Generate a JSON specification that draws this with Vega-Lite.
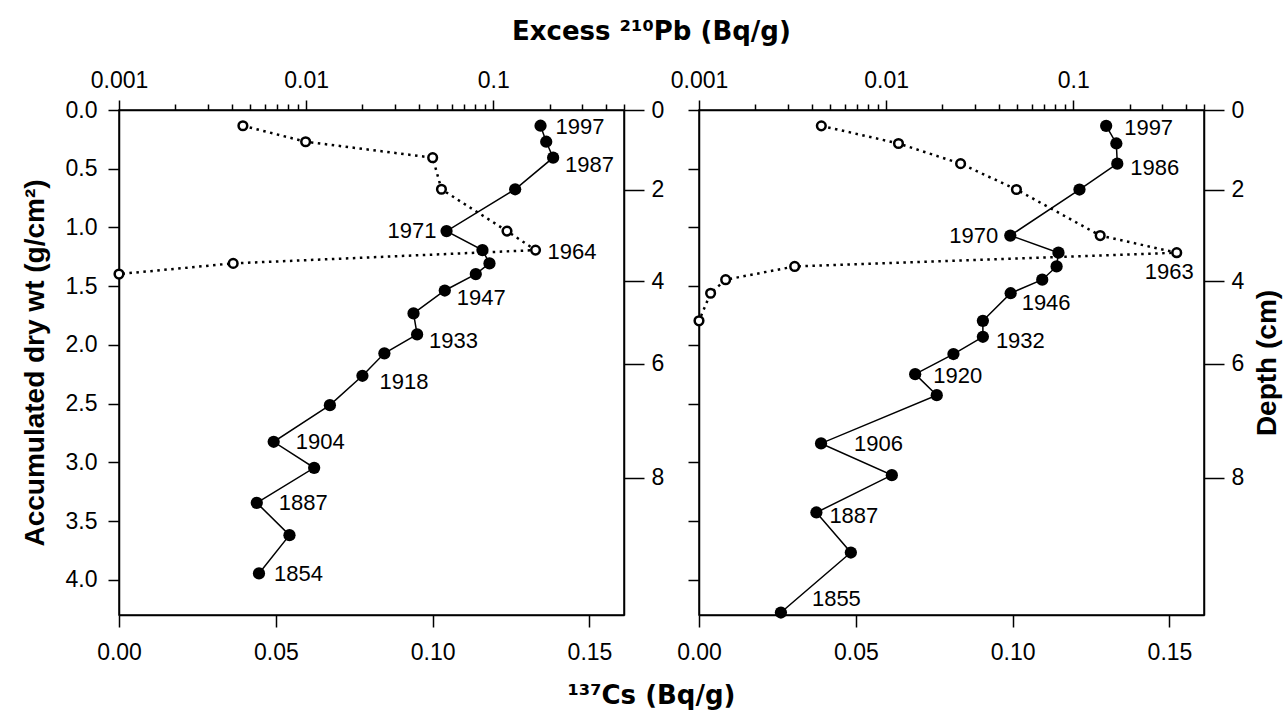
{
  "$schema": "https://vega.github.io/schema/vega-lite/v6.json",
  "background": "white",
  "padding": {"left": 20, "top": 19, "right": 5, "bottom": 5},
  "title": {"text": "¹³⁷Cs (Bq/g)", "orient": "bottom", "anchor": "middle", "fontSize": 26, "fontWeight": "bold", "offset": 18, "font": "DejaVu Sans", "color": "black"},
  "datasets": {
    "core1": [
      {"dry": 0.134, "pb": 0.179, "cs": 0.0395, "year": "1997"},
      {"dry": 0.270, "pb": 0.192, "cs": 0.0595, "year": null},
      {"dry": 0.406, "pb": 0.209, "cs": 0.100, "year": "1987"},
      {"dry": 0.675, "pb": 0.131, "cs": 0.1028, "year": null},
      {"dry": 1.031, "pb": 0.0563, "cs": 0.1237, "year": "1971"},
      {"dry": 1.193, "pb": 0.0876, "cs": 0.1328, "year": null, "csyear": "1964"},
      {"dry": 1.306, "pb": 0.0955, "cs": 0.0364, "year": null},
      {"dry": 1.397, "pb": 0.0807, "cs": 0.0, "year": null},
      {"dry": 1.537, "pb": 0.0551, "cs": null, "year": "1947"},
      {"dry": 1.732, "pb": 0.0375, "cs": null, "year": null},
      {"dry": 1.911, "pb": 0.0392, "cs": null, "year": "1933"},
      {"dry": 2.072, "pb": 0.0262, "cs": null, "year": null},
      {"dry": 2.263, "pb": 0.0200, "cs": null, "year": "1918"},
      {"dry": 2.513, "pb": 0.0134, "cs": null, "year": null},
      {"dry": 2.825, "pb": 0.00671, "cs": null, "year": "1904"},
      {"dry": 3.047, "pb": 0.01104, "cs": null, "year": null},
      {"dry": 3.345, "pb": 0.00545, "cs": null, "year": "1887"},
      {"dry": 3.620, "pb": 0.00815, "cs": null, "year": null},
      {"dry": 3.946, "pb": 0.0056, "cs": null, "year": "1854"}
    ],
    "core2": [
      {"dry": 0.135, "pb": 0.150, "cs": 0.0390, "year": "1997"},
      {"dry": 0.285, "pb": 0.170, "cs": 0.0636, "year": null},
      {"dry": 0.457, "pb": 0.172, "cs": 0.0834, "year": "1986"},
      {"dry": 0.677, "pb": 0.108, "cs": 0.1012, "year": null},
      {"dry": 1.069, "pb": 0.0461, "cs": 0.1279, "year": "1970"},
      {"dry": 1.215, "pb": 0.0834, "cs": 0.1523, "year": null, "csyear": "1963"},
      {"dry": 1.332, "pb": 0.0815, "cs": 0.0305, "year": null},
      {"dry": 1.445, "pb": 0.0683, "cs": 0.0085, "year": null},
      {"dry": 1.560, "pb": 0.0463, "cs": 0.0037, "year": "1946"},
      {"dry": 1.795, "pb": 0.0329, "cs": 0.0, "year": null},
      {"dry": 1.931, "pb": 0.0329, "cs": null, "year": "1932"},
      {"dry": 2.078, "pb": 0.0229, "cs": null, "year": null},
      {"dry": 2.249, "pb": 0.0143, "cs": null, "year": "1920"},
      {"dry": 2.428, "pb": 0.01865, "cs": null, "year": null},
      {"dry": 2.839, "pb": 0.00449, "cs": null, "year": "1906"},
      {"dry": 3.109, "pb": 0.01073, "cs": null, "year": null},
      {"dry": 3.427, "pb": 0.00424, "cs": null, "year": "1887"},
      {"dry": 3.768, "pb": 0.00648, "cs": null, "year": null},
      {"dry": 4.279, "pb": 0.00274, "cs": null, "year": "1855"}
    ]
  },
  "vconcat": [
    {
      "title": {"text": "Excess ²¹⁰Pb (Bq/g)", "anchor": "middle", "fontSize": 26, "fontWeight": "bold", "offset": 23, "font": "DejaVu Sans", "color": "black"},
      "spacing": 4,
      "hconcat": [
        {
          "width": 505,
          "height": 505,
          "data": {"name": "core1"},
          "resolve": {"scale": {"x": "independent", "y": "independent"}},
          "layer": [
            {
              "encoding": {
                "x": {"field": "pb", "type": "quantitative", "scale": {"type": "log", "domain": [0.001, 0.5], "nice": false},
                  "axis": {"orient": "top", "title": null, "values": [0.001, 0.002, 0.003, 0.004, 0.005, 0.006, 0.007, 0.008, 0.009, 0.01, 0.02, 0.03, 0.04, 0.05, 0.06, 0.07, 0.08, 0.09, 0.1, 0.2, 0.3, 0.4, 0.5],
                    "labelExpr": "datum.value == 0.001 ? '0.001' : datum.value == 0.01 ? '0.01' : datum.value == 0.1 ? '0.1' : ''",
                    "tickSize": {"condition": {"test": "datum.value == 0.001 || datum.value == 0.01 || datum.value == 0.1", "value": 10}, "value": 6},
                    "labelPadding": 8, "labelFlush": false, "labelOverlap": false}},
                "y": {"field": "dry", "type": "quantitative", "scale": {"domain": [0, 4.3], "reverse": true, "nice": false, "zero": false},
                  "axis": {"orient": "left", "title": "Accumulated dry wt (g/cm²)", "values": [0, 0.5, 1, 1.5, 2, 2.5, 3, 3.5, 4], "format": ".1f", "tickSize": 11, "labelPadding": 11, "titlePadding": 16, "labelFlush": false}}
              },
              "layer": [
                {"mark": {"type": "line", "color": "black", "strokeWidth": 1.5}, "encoding": {"order": {"field": "dry", "type": "quantitative"}}},
                {"mark": {"type": "point", "shape": "circle", "filled": true, "color": "black", "size": 150, "opacity": 1}},
                {"transform": [{"filter": "indexof(['1997','1854'], datum.year) >= 0"}], "mark": {"type": "text", "align": "left", "baseline": "middle", "dx": 15, "dy": 1, "fontSize": 22}, "encoding": {"text": {"field": "year"}}},
                {"transform": [{"filter": "indexof(['1987','1947','1933'], datum.year) >= 0"}], "mark": {"type": "text", "align": "left", "baseline": "middle", "dx": 12, "dy": 7, "fontSize": 22}, "encoding": {"text": {"field": "year"}}},
                {"transform": [{"filter": "datum.year == '1918'"}], "mark": {"type": "text", "align": "left", "baseline": "middle", "dx": 17, "dy": 6, "fontSize": 22}, "encoding": {"text": {"field": "year"}}},
                {"transform": [{"filter": "indexof(['1904','1887'], datum.year) >= 0"}], "mark": {"type": "text", "align": "left", "baseline": "middle", "dx": 22, "dy": 0, "fontSize": 22}, "encoding": {"text": {"field": "year"}}},
                {"transform": [{"filter": "datum.year == '1971'"}], "mark": {"type": "text", "align": "right", "baseline": "middle", "dx": -10, "dy": 0, "fontSize": 22}, "encoding": {"text": {"field": "year"}}}
              ]
            },
            {
              "encoding": {
                "x": {"field": "cs", "type": "quantitative", "scale": {"domain": [0, 0.161], "nice": false, "zero": false},
                  "axis": {"orient": "bottom", "title": null, "values": [0, 0.05, 0.1, 0.15], "format": ".2f", "tickSize": 12, "labelPadding": 14, "labelFlush": false}},
                "y": {"field": "dry", "type": "quantitative", "scale": {"domain": [0, 4.3], "reverse": true, "nice": false, "zero": false},
                  "axis": {"orient": "right", "title": null, "values": [0, 0.68, 1.46, 2.16, 3.13], "labelExpr": "datum.value == 0 ? '0' : datum.value == 0.68 ? '2' : datum.value == 1.46 ? '4' : datum.value == 2.16 ? '6' : '8'", "tickSize": 20, "labelPadding": 7, "labelFlush": false}}
              },
              "layer": [
                {"transform": [{"filter": "isValid(datum.cs)"}], "mark": {"type": "line", "color": "black", "strokeWidth": 2.5, "strokeDash": [2.5, 4.5]}, "encoding": {"order": {"field": "dry", "type": "quantitative"}}},
                {"transform": [{"filter": "isValid(datum.cs)"}], "mark": {"type": "point", "shape": "circle", "filled": true, "fill": "white", "stroke": "black", "strokeWidth": 2.5, "size": 75, "opacity": 1}},
                {"transform": [{"filter": "isValid(datum.csyear)"}], "mark": {"type": "text", "align": "left", "baseline": "middle", "dx": 12, "dy": 2, "fontSize": 22}, "encoding": {"text": {"field": "csyear"}}},
                {"data": {"values": [{"core": "Core 1"}]}, "mark": {"type": "text", "align": "left", "baseline": "middle", "fontSize": 29, "fontWeight": "bold"}, "encoding": {"x": {"datum": 0.0025, "type": "quantitative"}, "y": {"datum": 0.25, "type": "quantitative"}, "text": {"field": "core"}}}
              ]
            }
          ]
        },
        {
          "width": 505,
          "height": 505,
          "data": {"name": "core2"},
          "resolve": {"scale": {"x": "independent", "y": "independent"}},
          "layer": [
            {
              "encoding": {
                "x": {"field": "pb", "type": "quantitative", "scale": {"type": "log", "domain": [0.001, 0.5], "nice": false},
                  "axis": {"orient": "top", "title": null, "values": [0.001, 0.002, 0.003, 0.004, 0.005, 0.006, 0.007, 0.008, 0.009, 0.01, 0.02, 0.03, 0.04, 0.05, 0.06, 0.07, 0.08, 0.09, 0.1, 0.2, 0.3, 0.4, 0.5],
                    "labelExpr": "datum.value == 0.001 ? '0.001' : datum.value == 0.01 ? '0.01' : datum.value == 0.1 ? '0.1' : ''",
                    "tickSize": {"condition": {"test": "datum.value == 0.001 || datum.value == 0.01 || datum.value == 0.1", "value": 10}, "value": 6},
                    "labelPadding": 8, "labelFlush": false, "labelOverlap": false}},
                "y": {"field": "dry", "type": "quantitative", "scale": {"domain": [0, 4.3], "reverse": true, "nice": false, "zero": false},
                  "axis": {"orient": "left", "title": null, "labels": false, "values": [0, 0.5, 1, 1.5, 2, 2.5, 3, 3.5, 4], "tickSize": 11}}
              },
              "layer": [
                {"mark": {"type": "line", "color": "black", "strokeWidth": 1.5}, "encoding": {"order": {"field": "dry", "type": "quantitative"}}},
                {"mark": {"type": "point", "shape": "circle", "filled": true, "color": "black", "size": 150, "opacity": 1}},
                {"transform": [{"filter": "indexof(['1997','1920'], datum.year) >= 0"}], "mark": {"type": "text", "align": "left", "baseline": "middle", "dx": 18, "dy": 2, "fontSize": 22}, "encoding": {"text": {"field": "year"}}},
                {"transform": [{"filter": "indexof(['1986','1932','1887'], datum.year) >= 0"}], "mark": {"type": "text", "align": "left", "baseline": "middle", "dx": 13, "dy": 4, "fontSize": 22}, "encoding": {"text": {"field": "year"}}},
                {"transform": [{"filter": "datum.year == '1946'"}], "mark": {"type": "text", "align": "left", "baseline": "middle", "dx": 11, "dy": 10, "fontSize": 22}, "encoding": {"text": {"field": "year"}}},
                {"transform": [{"filter": "datum.year == '1906'"}], "mark": {"type": "text", "align": "left", "baseline": "middle", "dx": 33, "dy": 1, "fontSize": 22}, "encoding": {"text": {"field": "year"}}},
                {"transform": [{"filter": "datum.year == '1855'"}], "mark": {"type": "text", "align": "left", "baseline": "middle", "dx": 31, "dy": -14, "fontSize": 22}, "encoding": {"text": {"field": "year"}}},
                {"transform": [{"filter": "datum.year == '1970'"}], "mark": {"type": "text", "align": "right", "baseline": "middle", "dx": -12, "dy": 0, "fontSize": 22}, "encoding": {"text": {"field": "year"}}}
              ]
            },
            {
              "encoding": {
                "x": {"field": "cs", "type": "quantitative", "scale": {"domain": [0, 0.161], "nice": false, "zero": false},
                  "axis": {"orient": "bottom", "title": null, "values": [0, 0.05, 0.1, 0.15], "format": ".2f", "tickSize": 12, "labelPadding": 14, "labelFlush": false}},
                "y": {"field": "dry", "type": "quantitative", "scale": {"domain": [0, 4.3], "reverse": true, "nice": false, "zero": false},
                  "axis": {"orient": "right", "title": "Depth (cm)", "titleAngle": 270, "titleBaseline": "top", "titlePadding": 10, "values": [0, 0.68, 1.46, 2.16, 3.13], "labelExpr": "datum.value == 0 ? '0' : datum.value == 0.68 ? '2' : datum.value == 1.46 ? '4' : datum.value == 2.16 ? '6' : '8'", "tickSize": 20, "labelPadding": 7, "labelFlush": false}}
              },
              "layer": [
                {"transform": [{"filter": "isValid(datum.cs)"}], "mark": {"type": "line", "color": "black", "strokeWidth": 2.5, "strokeDash": [2.5, 4.5]}, "encoding": {"order": {"field": "dry", "type": "quantitative"}}},
                {"transform": [{"filter": "isValid(datum.cs)"}], "mark": {"type": "point", "shape": "circle", "filled": true, "fill": "white", "stroke": "black", "strokeWidth": 2.5, "size": 75, "opacity": 1}},
                {"transform": [{"filter": "isValid(datum.csyear)"}], "mark": {"type": "text", "align": "right", "baseline": "middle", "dx": 17, "dy": 19, "fontSize": 22}, "encoding": {"text": {"field": "csyear"}}},
                {"data": {"values": [{"core": "Core 2"}]}, "mark": {"type": "text", "align": "left", "baseline": "middle", "fontSize": 29, "fontWeight": "bold"}, "encoding": {"x": {"datum": 0.0025, "type": "quantitative"}, "y": {"datum": 0.25, "type": "quantitative"}, "text": {"field": "core"}}}
              ]
            }
          ]
        }
      ]
    }
  ],
  "config": {
    "font": "Liberation Sans",
    "view": {"stroke": "black", "strokeWidth": 1.5},
    "axis": {"grid": false, "domainColor": "black", "domainWidth": 1.5, "tickColor": "black", "tickWidth": 1.5, "labelColor": "black", "labelFontSize": 23, "labelFont": "Liberation Sans", "titleFont": "Liberation Sans", "titleFontSize": 28, "titleFontWeight": "bold", "titleColor": "black"},
    "text": {"color": "black", "font": "Liberation Sans"}
  }
}
